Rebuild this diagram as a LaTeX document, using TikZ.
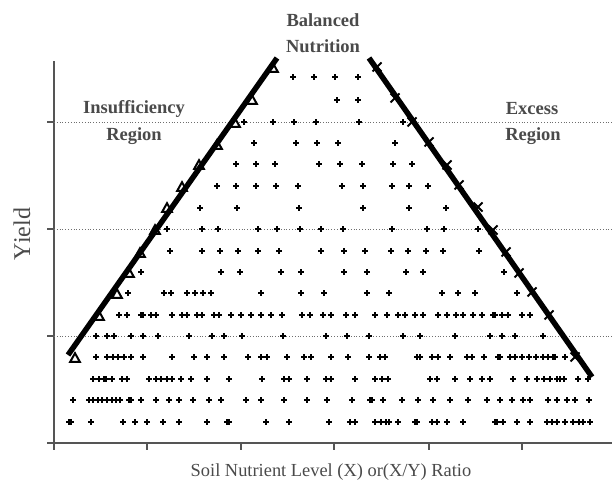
\documentclass[tikz,border=0pt]{standalone}
\usepackage{fontspec}
\setmainfont{Liberation Serif}
\definecolor{axisgray}{HTML}{555555}
\definecolor{gridgray}{HTML}{6E6E6E}
\definecolor{labelgray}{HTML}{4A4A4A}
\tikzset{
  axisline/.style={draw=axisgray, line width=1.4pt},
  gridline/.style={draw=gridgray, dotted, line width=0.8pt},
  pm/.style={draw=black, line width=1.1pt},
  mainline/.style={draw=black, line width=5.5pt},
  trimark/.style={draw=black, fill=white, line width=2pt, line join=miter},
  xmark/.style={draw=black, line width=1.8pt},
  regionlbl/.style={font=\bfseries\fontsize{18.5}{20}\selectfont, text=labelgray},
  axislbl/.style={font=\fontsize{18.4}{20}\selectfont, text=labelgray},
}
\newcommand\plusrow[2]{\foreach \xx in {#2}{\draw[pm] (\xx,#1) +(-2.7,0) -- +(2.7,0) +(0,-2.7) -- +(0,2.7);}}
\begin{document}
\begin{tikzpicture}[x=1pt,y=-1pt]
\useasboundingbox (0,0) rectangle (612,487);
% axes
\coordinate (O) at (54,443);
\coordinate (Ytop) at (54,61);
\coordinate (Xend) at (612,443);
\draw[axisline] (Ytop) -- (O) -- (Xend);
\foreach \yy in {122,229,336,443} \draw[axisline] (47,\yy) -- (54,\yy);
\foreach \xx in {54,147,241,334,429,522} \draw[axisline] (\xx,443) -- (\xx,450);
\foreach \yy in {122,229,336} \draw[gridline] (54,\yy) -- (612,\yy);
% scatter
\plusrow{77}{293,314,335,358}
\plusrow{100}{337,358}
\plusrow{122}{244,273,294,316,359,403}
\plusrow{143}{254,296,317,338,395}
\plusrow{164}{236,256,275,319,340,362,393,412}
\plusrow{186}{217,236,256,276,298,342,363,392,409,428}
\plusrow{208}{200,237,299,363,409,446}
\plusrow{229}{167,202,218,258,277,300,321,343,392,427,444,478}
\plusrow{251}{170,202,220,238,258,279,321,344,365,391,408,426,443,479}
\plusrow{272}{141,221,240,281,301,344,367,406,423,504}
\plusrow{293}{128,164,171,187,195,203,211,261,301,324,367,389,442,458,475,517}
\plusrow{315}{119,127,141,143,151,156,172,182,187,197,202,214,219,231,241,251,261,271,282,302,310,323,331,346,355,375,387,398,405,415,423,438,447,456,463,473,482,493,495,502,508,522,530}
\plusrow{336}{96,107,114,131,143,158,189,212,224,242,283,326,347,369,403,420,455,490,502,515,543}
\plusrow{357}{96,107,113,118,124,131,143,172,194,207,224,248,261,267,287,304,311,331,348,369,380,385,417,420,432,438,450,467,472,484,498,500,510,515,522,529,536,543,548,553,555,565}
\plusrow{379}{93,99,104,106,112,122,127,149,156,161,167,172,181,191,207,229,262,284,289,307,326,331,355,375,382,388,430,437,455,470,482,490,513,527,537,544,550,557,560,564,578,588}
\plusrow{400}{73,89,93,98,102,107,112,116,120,129,131,141,156,169,179,193,209,221,246,261,284,307,327,352,370,372,383,402,418,433,450,468,487,500,512,523,530,548,557,567,575,589}
\plusrow{422}{69,71,91,123,135,147,163,179,207,227,229,266,289,329,350,355,375,381,386,389,398,415,417,432,437,447,463,495,497,503,517,530,547,552,557,565,573,579,583,590}
% left (insufficiency) line with triangles
\foreach \xx/\yy in {75/358,99/316,117/294,129/273,140/253,155/230,167/208,182/187,199/165,217/145,235/123,252/100,273/68}
  \draw[trimark] (\xx,\yy) +(-4.8,3.8) -- +(4.8,3.8) -- +(0,-4.8) -- cycle;
\coordinate (L1) at (68,355);
\coordinate (L2) at (277,58);
\draw[mainline] (L1) -- (L2);
% right (excess) line with x marks
\coordinate (R1) at (369,58);
\coordinate (R2) at (592,377);
\draw[mainline] (R1) -- (R2);
\foreach \xx/\yy in {377/67,395/98,412/122,429/142,447/165,459/185,478/207,493/230,506/252,519/273,532/292,549/315,575/357}
  \draw[xmark] (\xx,\yy) +(-4.5,-4.5) -- +(4.5,4.5) +(-4.5,4.5) -- +(4.5,-4.5);
% labels
\node[regionlbl] (bal) at (323,20) {Balanced};
\node[regionlbl] (nut) at (323,46) {Nutrition};
\node[regionlbl] (ins) at (134,109) {Insufficiency};
\node[regionlbl] (insreg) at (134,136) {Region};
\node[regionlbl] (exc) at (532,109) {Excess};
\node[regionlbl] (excreg) at (533,136) {Region};
\node[font=\fontsize{24}{26}\selectfont, text=labelgray, rotate=90] (yl) at (22,234) {Yield};
\node[axislbl] (xl) at (331,472) {Soil Nutrient Level (X) or(X/Y) Ratio};
\end{tikzpicture}
\end{document}
